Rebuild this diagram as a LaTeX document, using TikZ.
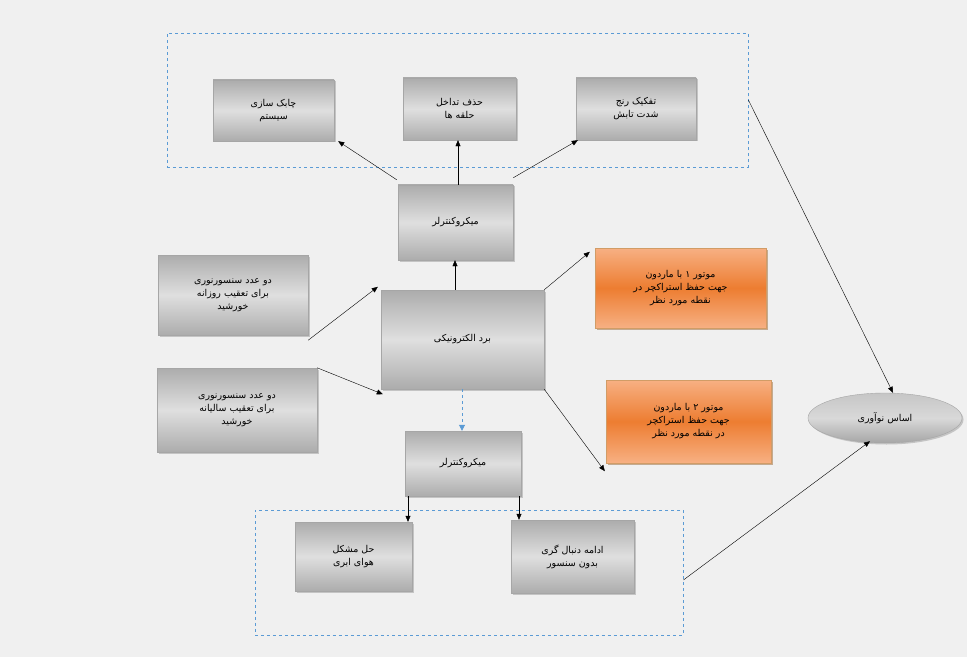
\documentclass[tikz,border=0pt]{standalone}
\usepackage{fontspec}
\usetikzlibrary{shapes.geometric,shadows,arrows.meta}
\TeXXeTstate=1
\newfontfamily\arabicfont[Script=Arabic]{DejaVu Sans}
\newcommand{\ar}[1]{\beginR #1\endR}
\definecolor{bg}{HTML}{F0F0F0}
\definecolor{dblue}{HTML}{5B9BD5}
\tikzset{
 gbox/.style={draw=gray!70, top color=gray!65, bottom color=gray!65, middle color=gray!25, drop shadow={shadow xshift=1.5bp,shadow yshift=-1.5bp,fill=gray!80}, minimum width=#1bp},
 obox/.style={draw=orange!70!black!60, top color={rgb,255:red,247;green,176;blue,131}, bottom color={rgb,255:red,247;green,176;blue,131}, middle color={rgb,255:red,237;green,125;blue,49}, drop shadow={shadow xshift=1.5bp,shadow yshift=-1.5bp,fill=brown!80!black}},
 frame/.style={draw=dblue, dashed, thick},
 arr/.style={-{Triangle[length=6bp,width=5bp]}, black},
 every node/.style={font=\arabicfont\fontsize{9.5}{13}\selectfont, align=center, inner sep=0pt}
}
\begin{document}
\begin{tikzpicture}[x=1bp,y=-1bp]
\fill[bg] (0,0) rectangle (967,657);
\useasboundingbox (0,0) rectangle (967,657);
\node[frame, minimum width=581bp, minimum height=134bp] (tf) at (457.5,100) {};
\node[frame, minimum width=428bp, minimum height=125bp] (bf) at (469,572.5) {};
\newcommand{\bx}[6]{\node[#1, minimum width=#4bp, minimum height=#5bp] (#2) at (#3) {#6};}
\bx{gbox}{b1}{273.5,110.5}{121}{61}{\ar{چابک سازی}\\\ar{سیستم}}
\bx{gbox}{b2}{459.5,109}{113}{62}{\ar{حذف تداخل}\\\ar{حلقه ها}}
\bx{gbox}{b3}{636,109}{120}{62}{\ar{تفکیک رنج}\\\ar{شدت تابش}}
\bx{gbox}{mt}{455.5,222.5}{115}{75}{\ar{میکروکنترلر}}
\bx{gbox}{l1}{233,295}{150}{80}{\ar{دو عدد سنسورنوری}\\\ar{برای تعقیب روزانه}\\\ar{خورشید}}
\bx{gbox}{l2}{237,410}{160}{84}{\ar{دو عدد سنسورنوری}\\\ar{برای تعقیب سالیانه}\\\ar{خورشید}}
\bx{gbox}{bd}{462.5,339.5}{163}{99}{\ar{برد الکترونیکی}}
\bx{obox}{m1}{680.5,288}{171}{80}{\ar{موتور ۱ با ماردون}\\\ar{جهت حفظ استراکچر در}\\\ar{نقطه مورد نظر}}
\bx{obox}{m2}{688.5,421.5}{165}{83}{\ar{موتور ۲ با ماردون}\\\ar{جهت حفظ استراکچر}\\\ar{در نقطه مورد نظر}}
\bx{gbox}{mb}{463,463.5}{116}{65}{\ar{میکروکنترلر}}
\bx{gbox}{c1}{353.5,556.5}{117}{69}{\ar{حل مشکل}\\\ar{هوای ابری}}
\bx{gbox}{c2}{572.5,556.5}{123}{73}{\ar{ادامه دنبال گری}\\\ar{بدون سنسور}}
\node[ellipse, draw=gray!70, top color=gray!45, bottom color=gray!70, middle color=gray!30, drop shadow={shadow xshift=1.5bp,shadow yshift=-1.5bp,fill=gray!80}, minimum width=154bp, minimum height=50bp] (el) at (885,418) {\ar{اساس نوآوری}};
\draw[arr] (bd.north -| 455,0) -- (mt.south -| 455,0);
\draw[arr] ([xshift=-1bp,yshift=5bp]mt.north west) -- ([xshift=4bp]b1.south east);
\draw[arr] (mt.north -| 458,0) -- (b2.south -| 458,0);
\draw[arr] ([yshift=7bp]mt.north east) -- ([xshift=2bp]b3.south west);
\draw[arr] ([yshift=-5bp]l1.south east) -- ([xshift=-3bp,yshift=3bp]bd.north west);
\draw[arr] (l2.north east) -- ([xshift=2bp,yshift=-5bp]bd.south west);
\draw[arr] (bd.north east) -- ([xshift=-5bp,yshift=-4bp]m1.north west);
\draw[arr] (bd.south east) -- ([xshift=-1bp,yshift=-8bp]m2.south west);
\draw[dblue, thick, dashed, -{Triangle[length=6bp,width=6bp]}] (bd.south -| 462,0) -- (mb.north -| 462,0);
\draw[arr] (mb.south -| 408,0) -- (c1.north -| 408,0);
\draw[arr] (mb.south -| 519,0) -- (c2.north -| 519,0);
\draw[arr] ([yshift=-5bp]tf.east |- 0,95) -- (el.north -| 893,0);
\draw[arr] (bf.east |- 0,580) -- ([xshift=-15bp,yshift=2bp]el.south);
\end{tikzpicture}
\end{document}
